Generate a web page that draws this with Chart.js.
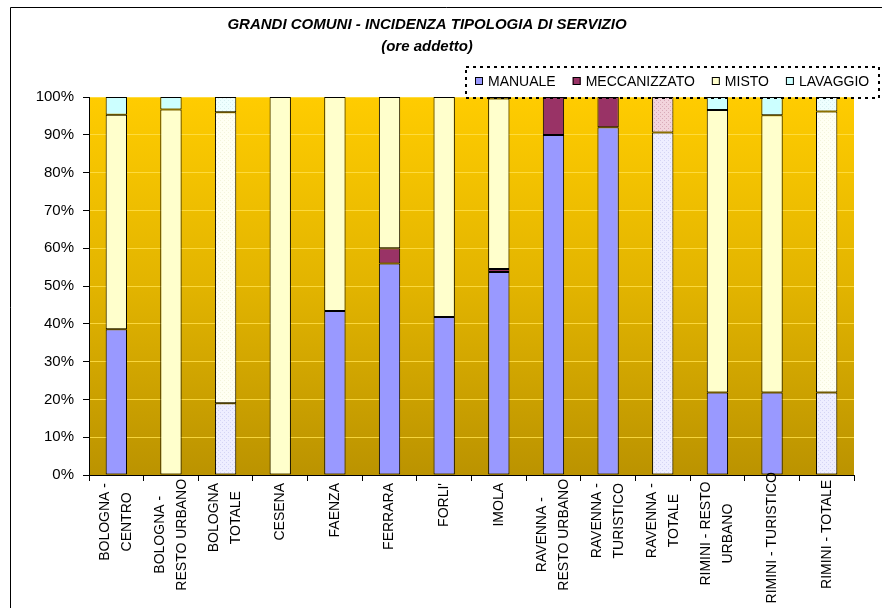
<!DOCTYPE html>
<html>
<head>
<meta charset="utf-8">
<script src="https://cdn.jsdelivr.net/npm/chart.js@4"></script>
<style>
  html, body { margin: 0; padding: 0; background: #fff; }
  #wrap { width: 882px; height: 608px; position: relative; }
</style>
</head>
<body>
<div id="wrap"><canvas id="c" width="882" height="608"></canvas></div>
<script>
// Grandi comuni - incidenza tipologia di servizio (ore addetto), in %

const categories = [
  ['BOLOGNA -', 'CENTRO'],
  ['BOLOGNA -', 'RESTO URBANO'],
  ['BOLOGNA', 'TOTALE'],
  ['CESENA'],
  ['FAENZA'],
  ['FERRARA'],
  ["FORLI'"],
  ['IMOLA'],
  ['RAVENNA -', 'RESTO URBANO'],
  ['RAVENNA -', 'TURISTICO'],
  ['RAVENNA -', 'TOTALE'],
  ['RIMINI - RESTO', 'URBANO'],
  ['RIMINI - TURISTICO'],
  ['RIMINI - TOTALE']
];

const manuale      = [38.6, 0,    19.0, 0,   43.4, 56.0, 41.8, 53.7, 90.0, 92.0, 90.6, 21.8, 21.8, 21.8];
const meccanizzato = [0,    0,    0,    0,   0,    4.0,  0,    0.8,  10.0, 8.0,  9.4,  0,    0,    0];
const misto        = [56.7, 96.7, 77.0, 100, 56.6, 40.0, 58.2, 45.1, 0,    0,    0,    74.8, 73.4, 74.4];
const lavaggio     = [4.7,  3.3,  4.0,  0,   0,    0,    0,    0.4,  0,    0,    0,    3.4,  4.8,  3.8];

const yTicks = [0, 10, 20, 30, 40, 50, 60, 70, 80, 90, 100];

// bars that are totals get a lighter dotted fill
const totalIdx = [2, 10, 13];

const FONT = '"Liberation Sans", Arial, sans-serif';
const ctx = document.getElementById('c').getContext('2d');

function dotted(base, dot) {
  const c = document.createElement('canvas');
  c.width = 4; c.height = 4;
  const g = c.getContext('2d');
  g.fillStyle = base;
  g.fillRect(0, 0, 4, 4);
  g.fillStyle = dot;
  g.fillRect(0, 0, 1, 1);
  g.fillRect(2, 2, 1, 1);
  return ctx.createPattern(c, 'repeat');
}

function fills(color, light) {
  return categories.map((_, i) => totalIdx.includes(i) ? light : color);
}

const series = [
  { label: 'MANUALE', data: manuale, color: '#9999FF', light: dotted('#EEEEFF', '#D4D4F4') },
  { label: 'MECCANIZZATO', data: meccanizzato, color: '#993366', light: dotted('#F2D4DC', '#D8AAB8') },
  { label: 'MISTO', data: misto, color: '#FFFFCC', light: dotted('#FFFFF2', '#F4F4DC') },
  { label: 'LAVAGGIO', data: lavaggio, color: '#CCFFFF', light: dotted('#EEFFFF', '#D8F0F0') }
];

// gold gradient behind the plot + frame
const background = {
  id: 'background',
  beforeDraw(chart) {
    const { ctx, chartArea: a } = chart;
    ctx.save();
    const g = ctx.createLinearGradient(0, a.top, 0, a.bottom);
    g.addColorStop(0, '#FFCC00');
    g.addColorStop(0.5, '#E2B400');
    g.addColorStop(1, '#BB9300');
    ctx.fillStyle = g;
    ctx.fillRect(a.left, a.top, a.right - a.left, a.bottom - a.top);
    ctx.strokeStyle = '#000';
    ctx.lineWidth = 1;
    ctx.beginPath();
    ctx.moveTo(882, 7.5);
    ctx.lineTo(10.5, 7.5);
    ctx.lineTo(10.5, 608);
    ctx.stroke();
    ctx.restore();
  }
};

// legend in a dotted box, overlapping the top of the plot
const legendBox = {
  id: 'legendBox',
  afterDraw(chart) {
    const { ctx } = chart;
    ctx.save();
    ctx.strokeStyle = '#000';
    ctx.lineWidth = 2;
    ctx.setLineDash([3, 4]);
    ctx.strokeRect(466, 67, 413, 31);
    ctx.setLineDash([]);
    ctx.font = '14px ' + FONT;
    ctx.textBaseline = 'middle';
    ctx.textAlign = 'left';
    let x = 475;
    const y = 81;
    chart.data.datasets.forEach(ds => {
      ctx.fillStyle = ds.legendColor;
      ctx.fillRect(x, y - 4, 8, 8);
      ctx.lineWidth = 1;
      ctx.strokeStyle = '#000';
      ctx.strokeRect(x + 0.5, y - 3.5, 7, 7);
      ctx.fillStyle = '#000';
      ctx.fillText(ds.label, x + 13, y + 1);
      x += 13 + ctx.measureText(ds.label).width + 17;
    });
    ctx.restore();
  }
};

// rotated category labels, lines centred on each other
const xLabels = {
  id: 'xLabels',
  afterDraw(chart) {
    const { ctx } = chart;
    const xs = chart.scales.x;
    ctx.save();
    ctx.font = '14px ' + FONT;
    ctx.fillStyle = '#000';
    ctx.textAlign = 'center';
    ctx.textBaseline = 'middle';
    categories.forEach((lines, i) => {
      const cx = xs.getPixelForTick(i);
      const w = Math.max(...lines.map(l => ctx.measureText(l).width));
      const top = 483 - Math.max(0, w - 100) * 0.35;
      lines.forEach((l, j) => {
        const lx = cx + (j - (lines.length - 1) / 2) * 22;
        ctx.save();
        ctx.translate(lx, top + w / 2);
        ctx.rotate(-Math.PI / 2);
        ctx.fillText(l, 0, 0);
        ctx.restore();
      });
    });
    ctx.restore();
  }
};

new Chart(ctx, {
  type: 'bar',
  data: {
    labels: categories,
    datasets: series.map(s => ({
      label: s.label,
      data: s.data.map(v => v === 0 ? null : v),
      backgroundColor: fills(s.color, s.light),
      legendColor: s.color,
      borderColor: '#000',
      borderWidth: 1,
      borderSkipped: false,
      categoryPercentage: 1,
      barPercentage: 0.39
    }))
  },
  options: {
    responsive: false,
    animation: false,
    layout: { padding: { left: 0, right: 28, top: 0, bottom: 0 } },
    plugins: {
      legend: { display: false },
      tooltip: { enabled: false },
      title: {
        display: true,
        text: ['GRANDI COMUNI - INCIDENZA TIPOLOGIA DI SERVIZIO', '(ore addetto)'],
        color: '#000',
        font: { family: FONT, size: 15, weight: 'bold', style: 'italic', lineHeight: 1.47 },
        padding: { top: 14, bottom: 39 }
      }
    },
    scales: {
      x: {
        stacked: true,
        grid: { offset: true, drawOnChartArea: false, color: '#000', tickLength: 6 },
        border: { color: '#000' },
        ticks: { color: 'rgba(0,0,0,0)', font: { family: FONT, size: 14 }, maxRotation: 90, minRotation: 90 },
        afterFit(scale) { scale.height = 133; }
      },
      y: {
        stacked: true,
        min: 0,
        max: 100,
        afterBuildTicks(scale) { scale.ticks = yTicks.map(v => ({ value: v })); },
        grid: { color: 'rgba(255,222,70,0.85)', tickColor: '#000', tickLength: 6 },
        border: { color: '#000' },
        ticks: {
          color: '#000',
          font: { family: FONT, size: 15 },
          padding: 9,
          callback: v => v + '%'
        },
        afterFit(scale) { scale.width = 89; }
      }
    }
  },
  plugins: [background, legendBox, xLabels]
});
</script>
</body>
</html>
